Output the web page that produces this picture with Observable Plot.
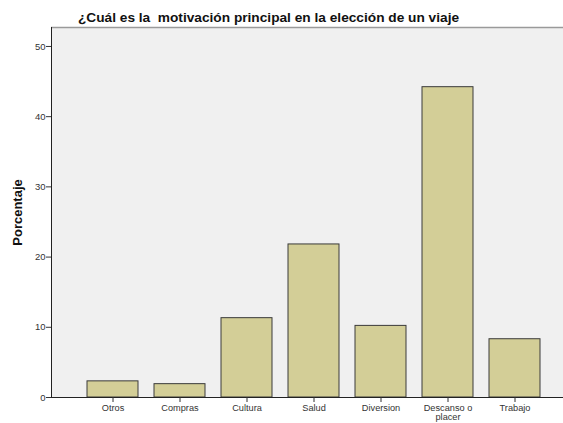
<!DOCTYPE html>
<html>
<head>
<meta charset="utf-8">
<script src="https://cdn.jsdelivr.net/npm/d3@7"></script>
<script src="https://cdn.jsdelivr.net/npm/@observablehq/plot@0.6"></script>
<style>
  html, body { margin: 0; padding: 0; background: #fff; }
  #chart svg { display: block; }
</style>
</head>
<body>
<div id="chart"></div>
<script>
const titleText = "¿Cuál es la  motivación principal en la elección de un viaje";
const yLabel = "Porcentaje";
const categories = ["Otros", "Compras", "Cultura", "Salud", "Diversion", "Descanso o placer", "Trabajo"];
const values = [2.3, 1.9, 11.3, 21.8, 10.2, 44.2, 8.3];
const yTicks = [0, 10, 20, 30, 40, 50];

const data = categories.map((c, i) => ({category: c, value: values[i]}));
const yMax = 52.7;

const chart = Plot.plot({
  width: 563,
  height: 423,
  marginTop: 27,
  marginBottom: 26,
  marginLeft: 51,
  marginRight: 0,
  style: {background: "#fff", fontFamily: "Arial, 'Liberation Sans', sans-serif"},
  x: {type: "band", domain: categories, range: [78, 548], paddingInner: 0.24, paddingOuter: 0.12},
  y: {domain: [0, yMax]},
  marks: [
    Plot.frame({fill: "#f0f0f0", stroke: null}),
    Plot.barY(data, {x: "category", y: "value", fill: "#d3ce97", stroke: "#3a3a3a", strokeWidth: 1}),
    Plot.ruleY([yMax], {stroke: "#9a9a9a", strokeWidth: 1.5}),
    Plot.ruleY([0], {stroke: "#222", strokeWidth: 1}),
    Plot.frame({anchor: "left", stroke: "#222"}),
    Plot.axisY({ticks: yTicks, tickSize: 5, tickPadding: 1, fontSize: 9.5, color: "#333", label: null}),
    Plot.axisX({tickSize: 5, tickPadding: 2, fontSize: 9.2, color: "#333", label: null,
      tickFormat: d => d === "Descanso o placer" ? "Descanso o\nplacer" : d, lineHeight: 1.0}),
    Plot.text([titleText], {frameAnchor: "top-left", dx: 217, dy: -15, textAnchor: "middle", fontSize: 13.7, fontWeight: "bold", fill: "#111"}),
    Plot.text([yLabel], {frameAnchor: "left", dx: -34, rotate: -90, textAnchor: "middle", fontSize: 13, fontWeight: "bold", fill: "#111"})
  ]
});
document.getElementById("chart").appendChild(chart);
</script>
</body>
</html>
